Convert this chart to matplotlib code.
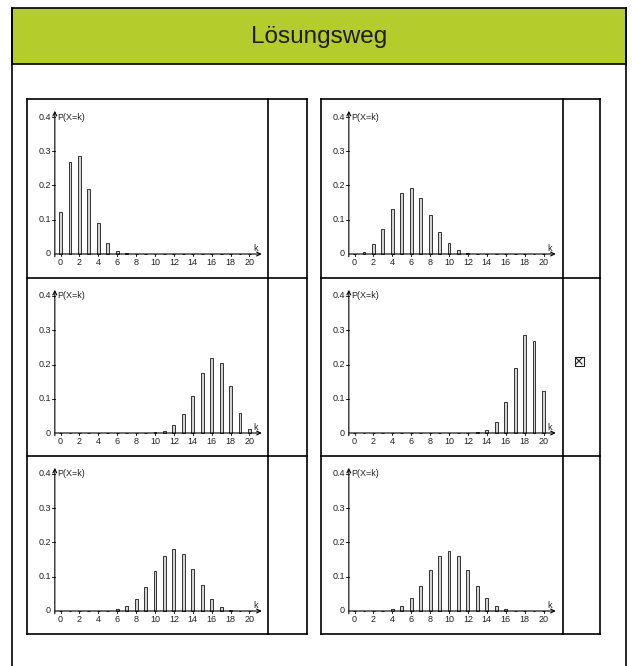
import matplotlib
matplotlib.use("Agg")
import matplotlib.pyplot as plt
from matplotlib.patches import Rectangle
from matplotlib.lines import Line2D

plt.rcParams['font.family'] = ['Liberation Sans', 'DejaVu Sans']

# ---------------- data ----------------
title = "Lösungsweg"
k_values = list(range(21))
x_tick_labels = [str(v) for v in range(0, 21, 2)]
y_tick_values = [0, 0.1, 0.2, 0.3, 0.4]
y_tick_labels = ["0", "0.1", "0.2", "0.3", "0.4"]
y_label = "P(X=k)"
x_label = "k"

# probabilities P(X=k), k = 0..20
p_top_left = [0.122, 0.270, 0.285, 0.190, 0.090, 0.032, 0.009, 0.002, 0.0004, 0, 0,
              0, 0, 0, 0, 0, 0, 0, 0, 0, 0]
p_top_right = [0.001, 0.007, 0.028, 0.072, 0.130, 0.179, 0.192, 0.164, 0.114, 0.065, 0.031,
               0.012, 0.004, 0.001, 0, 0, 0, 0, 0, 0, 0]
p_mid_left = [0, 0, 0, 0, 0, 0, 0, 0, 0.0001, 0.0005, 0.002,
              0.007, 0.022, 0.055, 0.109, 0.175, 0.218, 0.205, 0.137, 0.058, 0.012]
p_mid_right = [0, 0, 0, 0, 0, 0, 0, 0, 0, 0, 0,
               0.0001, 0.0004, 0.002, 0.009, 0.032, 0.090, 0.190, 0.285, 0.270, 0.122]
p_bot_left = [0, 0, 0, 0, 0.0003, 0.001, 0.005, 0.015, 0.035, 0.071, 0.117,
              0.160, 0.180, 0.166, 0.124, 0.075, 0.035, 0.012, 0.003, 0.0005, 0]
p_bot_right = [0, 0, 0.0002, 0.001, 0.005, 0.015, 0.037, 0.074, 0.120, 0.160, 0.176,
               0.160, 0.120, 0.074, 0.037, 0.015, 0.005, 0.001, 0.0002, 0, 0]

panels = [p_top_left, p_top_right, p_mid_left, p_mid_right, p_bot_left, p_bot_right]
checked = [False, False, False, True, False, False]

# ---------------- layout (pixels) ----------------
W, H = 632, 666
fig = plt.figure(figsize=(W / 100, H / 100), dpi=100)
bg = fig.add_axes([0, 0, 1, 1])
bg.set_xlim(0, W)
bg.set_ylim(H, 0)
bg.axis('off')

LW = 1.2
# outer box + header
bg.add_patch(Rectangle((12, 8), 614, 56, facecolor='#b5cc2d', edgecolor='black', lw=LW, zorder=1))
bg.add_line(Line2D([12, 12], [8, H], color='black', lw=LW))
bg.add_line(Line2D([626, 626], [8, H], color='black', lw=LW))
bg.text(319, 37, title, ha='center', va='center', fontsize=17.5, color='#1e1e1e')

col_left = [27, 321]
col_div = [268, 563]
col_right = [307, 600]
row_tops = [99, 278, 456, 634]

for c in range(2):
    L, D, R = col_left[c], col_div[c], col_right[c]
    for y in row_tops:
        bg.add_line(Line2D([L, R], [y, y], color='black', lw=LW))
    for x in (L, D, R):
        bg.add_line(Line2D([x, x], [row_tops[0], row_tops[-1]], color='black', lw=LW))

SX = 9.45    # px per unit k
SY = 342.5   # px per unit probability
XMIN, XMAX = -3.5, 22.5
YMIN, YMAX = -0.06, 0.44

for i, vals in enumerate(panels):
    r, c = divmod(i, 2)
    L = col_left[c]
    T = row_tops[r]
    x0 = L + 33.5      # pixel of k = 0
    y0 = T + 155       # pixel of P = 0
    left = x0 + XMIN * SX
    width = (XMAX - XMIN) * SX
    bottom = y0 - YMIN * SY
    height = (YMAX - YMIN) * SY
    ax = fig.add_axes([left / W, 1 - bottom / H, width / W, height / H])
    ax.set_xlim(XMIN, XMAX)
    ax.set_ylim(YMIN, YMAX)
    ax.axis('off')
    ax.patch.set_alpha(0)

    ax.bar(k_values, vals, width=0.3, facecolor='#d4d4d4', edgecolor='#333333', lw=0.7, zorder=3)

    # axes with arrows
    ax.annotate('', xy=(21.3, 0), xytext=(-0.6, 0),
                arrowprops=dict(arrowstyle='->', lw=0.8, color='black',
                                shrinkA=0, shrinkB=0, mutation_scale=7), zorder=4)
    ax.annotate('', xy=(-0.6, 0.418), xytext=(-0.6, -0.008),
                arrowprops=dict(arrowstyle='->', lw=0.8, color='black',
                                shrinkA=0, shrinkB=0, mutation_scale=7), zorder=4)
    for kk, lab in zip(range(0, 21, 2), x_tick_labels):
        ax.plot([kk, kk], [0, -0.006], color='black', lw=0.6)
        ax.text(kk, -0.026, lab, ha='center', va='center', fontsize=6.5, color='#222')
    for yv, lab in zip(y_tick_values, y_tick_labels):
        if yv > 0:
            ax.plot([-0.6, -0.85], [yv, yv], color='black', lw=0.6)
        ax.text(-1.0, yv, lab, ha='right', va='center', fontsize=6.5, color='#222')
    ax.text(-0.35, 0.40, y_label, ha='left', va='center', fontsize=6.5, color='#222')
    ax.text(20.6, 0.016, x_label, ha='center', va='center', fontsize=6.5, color='#222')

    if checked[i]:
        cx = (col_div[c] + col_right[c]) / 2 - 2.5
        cy = T + 83
        s = 9
        bg.add_patch(Rectangle((cx - s / 2, cy - s / 2), s, s, facecolor='none', edgecolor='#222', lw=0.8))
        bg.add_line(Line2D([cx - s / 2 + 1.5, cx + s / 2 - 1.5], [cy - s / 2 + 1.5, cy + s / 2 - 1.5], color='#222', lw=0.8))
        bg.add_line(Line2D([cx - s / 2 + 1.5, cx + s / 2 - 1.5], [cy + s / 2 - 1.5, cy - s / 2 + 1.5], color='#222', lw=0.8))

fig.savefig("out.png", dpi=100)
